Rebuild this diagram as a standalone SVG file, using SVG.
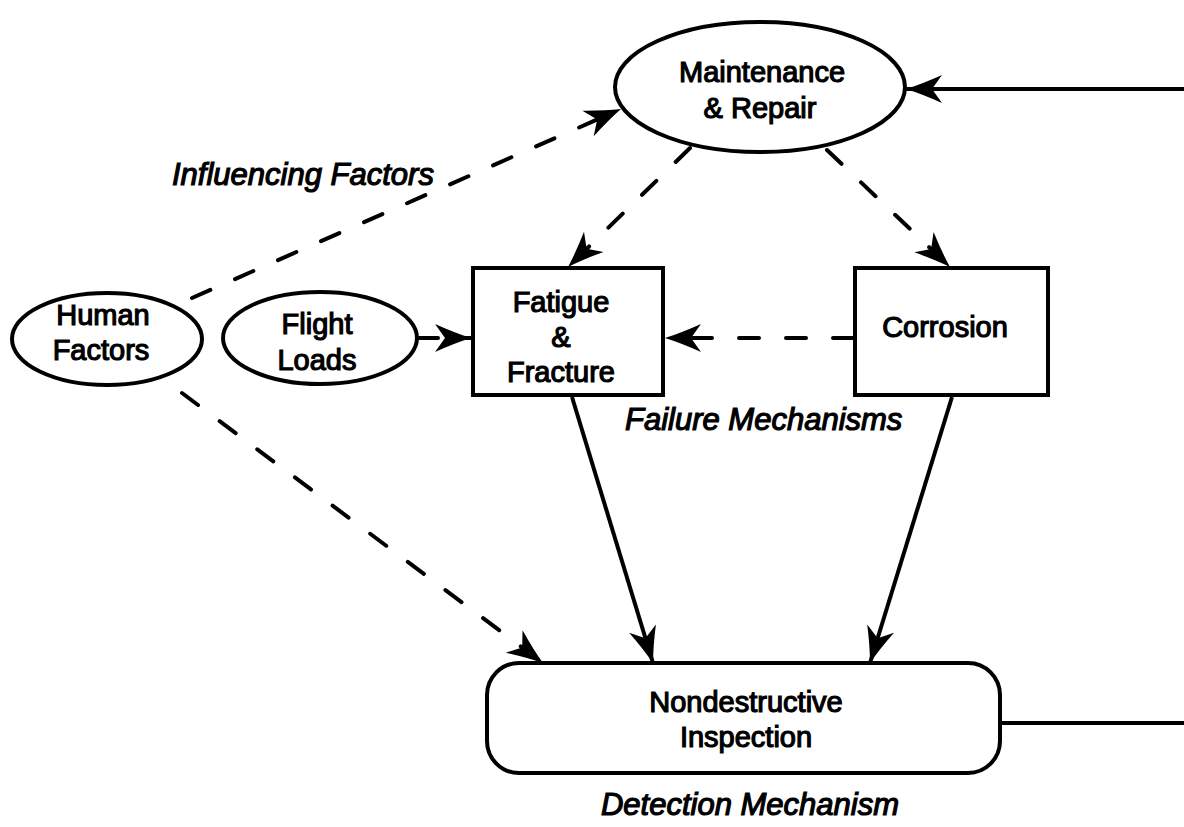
<svg xmlns="http://www.w3.org/2000/svg" width="1184" height="827" viewBox="0 0 1184 827">
<style>
.shape{fill:#fff;stroke:#000;stroke-width:4}
.t{font-family:"Liberation Sans",Arial,Helvetica,sans-serif;font-size:29px;fill:#000;stroke:#000;stroke-width:1.2;text-anchor:middle}
.lbl{font-family:"Liberation Sans",Arial,Helvetica,sans-serif;font-size:31px;font-style:italic;fill:#000;stroke:#000;stroke-width:1.2}
.solid{fill:none;stroke:#000;stroke-width:4}
.dash{fill:none;stroke:#000;stroke-width:4;stroke-dasharray:20 27;stroke-linecap:round}
</style>
<defs>
<marker id="ah" markerUnits="userSpaceOnUse" markerWidth="40" markerHeight="30" viewBox="-38 -15 40 30" refX="0" refY="0" orient="auto" overflow="visible">
<path d="M0,0 Q-16,-5 -36,-14 L-26,0 L-36,14 Q-16,5 0,0 Z" fill="#000"/>
</marker>
</defs>
<g id="connectors">
<line class="dash" x1="192" y1="298" x2="621" y2="109" marker-end="url(#ah)"/>
<line class="dash" x1="690" y1="148" x2="568" y2="267" marker-end="url(#ah)"/>
<line class="dash" x1="827" y1="150" x2="950" y2="267" marker-end="url(#ah)"/>
<line class="dash" x1="418" y1="338" x2="471" y2="338" stroke-dasharray="10 100" marker-end="url(#ah)"/>
<line class="dash" x1="853" y1="338" x2="665" y2="338" marker-end="url(#ah)"/>
<line class="dash" x1="182" y1="393" x2="543" y2="663" marker-end="url(#ah)"/>
<line class="solid" x1="572" y1="397" x2="653" y2="663" marker-end="url(#ah)"/>
<line class="solid" x1="952" y1="397" x2="870" y2="663" marker-end="url(#ah)"/>
<line class="solid" x1="1184" y1="89" x2="906" y2="89" marker-end="url(#ah)"/>
<line class="solid" x1="1000" y1="723" x2="1184" y2="723"/>
</g>
<g id="maintenance">
<ellipse class="shape" cx="760" cy="87" rx="145" ry="65"/>
<text class="t" x="762" y="82">Maintenance</text>
<text class="t" x="760" y="118">&amp; Repair</text>
</g>
<g id="human-factors">
<ellipse class="shape" cx="107" cy="339" rx="95" ry="46"/>
<text class="t" x="103" y="325">Human</text>
<text class="t" x="101" y="360">Factors</text>
</g>
<g id="flight-loads">
<ellipse class="shape" cx="320" cy="338" rx="97" ry="46"/>
<text class="t" x="317" y="334">Flight</text>
<text class="t" x="317" y="370">Loads</text>
</g>
<g id="fatigue">
<rect class="shape" x="473" y="268" width="190" height="127"/>
<text class="t" x="561" y="312">Fatigue</text>
<text class="t" x="561" y="347">&amp;</text>
<text class="t" x="561" y="382">Fracture</text>
</g>
<g id="corrosion">
<rect class="shape" x="855" y="268" width="193" height="127"/>
<text class="t" x="945" y="337">Corrosion</text>
</g>
<g id="ndi">
<rect class="shape" x="487" y="663" width="513" height="110" rx="32" ry="32"/>
<text class="t" x="746" y="712">Nondestructive</text>
<text class="t" x="746" y="747">Inspection</text>
</g>
<g id="labels">
<text class="lbl" x="172" y="185">Influencing Factors</text>
<text class="lbl" x="625" y="430">Failure Mechanisms</text>
<text class="lbl" x="750" y="815" font-size="28" text-anchor="middle">Detection Mechanism</text>
</g>
</svg>
